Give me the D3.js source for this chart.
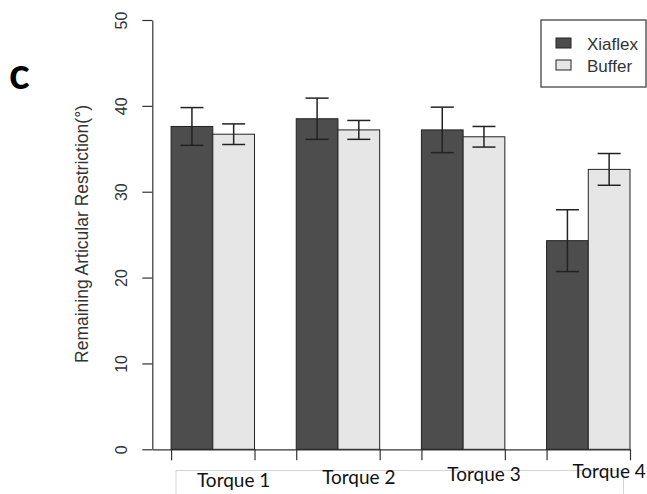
<!DOCTYPE html>
<html>
<head>
<meta charset="utf-8">
<script src="https://cdn.jsdelivr.net/npm/d3@7"></script>
<style>
  body { margin: 0; background: #fff; }
  svg { display: block; }
</style>
</head>
<body>
<div id="chart"></div>
<script>
// data
var groups = ["Torque 1", "Torque 2", "Torque 3", "Torque 4"];
var series = ["Xiaflex", "Buffer"];
var xiaflexMean = [37.6, 38.5, 37.2, 24.3];
var xiaflexErr  = [2.2, 2.4, 2.65, 3.6];
var bufferMean  = [36.7, 37.2, 36.4, 32.6];
var bufferErr   = [1.2, 1.1, 1.2, 1.85];
var yTicks = [0, 10, 20, 30, 40, 50];

var width = 647, height = 494;
var colors = {"Xiaflex": "#4d4d4d", "Buffer": "#e6e6e6"};

var svg = d3.select("#chart")
  .append("svg")
  .attr("width", width)
  .attr("height", height);

// bar units: each group = 2 bars + 1 gap (R barplot style)
var x = d3.scaleLinear()
  .domain([0.55, 12])
  .range([152.3, 630]);

var y = d3.scaleLinear()
  .domain([0, 50])
  .range([449.3, 20]);

var rows = [];
groups.forEach(function(g, i) {
  rows.push({group: g, gi: i, s: "Xiaflex", si: 0, mean: xiaflexMean[i], err: xiaflexErr[i]});
  rows.push({group: g, gi: i, s: "Buffer", si: 1, mean: bufferMean[i], err: bufferErr[i]});
});
function unit(d) { return 1 + d.gi * 3 + d.si; }

// Y axis
var yAxis = svg.append("g")
  .attr("transform", "translate(" + x(0.55) + ",0)")
  .call(d3.axisLeft(y).tickValues(yTicks).tickSize(10).tickSizeOuter(0).tickPadding(0));
yAxis.select(".domain").attr("stroke", "#333").attr("stroke-width", 1.2);
yAxis.selectAll(".tick line").attr("stroke", "#333").attr("stroke-width", 1.2);
yAxis.selectAll(".tick text")
  .attr("x", 0).attr("dy", 0)
  .attr("transform", "translate(-25.3,0) rotate(-90)")
  .style("text-anchor", "middle")
  .style("font-family", "Liberation Sans, Arial, sans-serif")
  .style("font-size", "16px")
  .attr("fill", "#333");

// X axis with ticks at group edges
var edges = [];
groups.forEach(function(g, i) { edges.push(1 + i * 3, 3 + i * 3); });
var xAxis = svg.append("g")
  .attr("transform", "translate(0," + y(0) + ")")
  .call(d3.axisBottom(x).tickValues(edges).tickSize(11).tickSizeOuter(0).tickFormat(""));
xAxis.select(".domain").attr("stroke", "#333").attr("stroke-width", 1.2);
xAxis.selectAll(".tick line").attr("stroke", "#333").attr("stroke-width", 1.2);

// Bars
svg.selectAll("rect.bar")
  .data(rows)
  .enter()
  .append("rect")
  .attr("class", "bar")
  .attr("x", function(d) { return x(unit(d)); })
  .attr("y", function(d) { return y(d.mean); })
  .attr("width", x(2) - x(1))
  .attr("height", function(d) { return y(0) - y(d.mean); })
  .attr("fill", function(d) { return colors[d.s]; })
  .attr("stroke", "#222")
  .attr("stroke-width", 1);

// Error bars
var eb = svg.selectAll("g.err")
  .data(rows)
  .enter()
  .append("g")
  .attr("class", "err")
  .attr("stroke", "#222")
  .attr("stroke-width", 1.5);
eb.append("line")
  .attr("x1", function(d) { return x(unit(d) + 0.5); })
  .attr("x2", function(d) { return x(unit(d) + 0.5); })
  .attr("y1", function(d) { return y(d.mean + d.err); })
  .attr("y2", function(d) { return y(d.mean - d.err); });
eb.append("line")
  .attr("x1", function(d) { return x(unit(d) + 0.5) - 11.5; })
  .attr("x2", function(d) { return x(unit(d) + 0.5) + 11.5; })
  .attr("y1", function(d) { return y(d.mean + d.err); })
  .attr("y2", function(d) { return y(d.mean + d.err); });
eb.append("line")
  .attr("x1", function(d) { return x(unit(d) + 0.5) - 11.5; })
  .attr("x2", function(d) { return x(unit(d) + 0.5) + 11.5; })
  .attr("y1", function(d) { return y(d.mean - d.err); })
  .attr("y2", function(d) { return y(d.mean - d.err); });

// Y label
svg.append("text")
  .attr("transform", "translate(88,234) rotate(-90)")
  .attr("text-anchor", "middle")
  .style("font-family", "Liberation Sans, Arial, sans-serif")
  .style("font-size", "17.5px")
  .attr("fill", "#333")
  .text("Remaining Articular Restriction(°)");

// pasted category label strip
svg.append("path")
  .attr("d", "M176,494V470.5H623.5V494")
  .attr("fill", "none")
  .attr("stroke", "#d4d4d4")
  .attr("stroke-width", 1);
svg.selectAll("text.cat")
  .data(groups)
  .enter()
  .append("text")
  .attr("class", "cat")
  .attr("x", function(d, i) { return x(2.5 + i * 3); })
  .attr("y", function(d, i) { return 487 - i * 3; })
  .attr("text-anchor", "middle")
  .style("font-family", "Lato, sans-serif")
  .style("font-size", "19px")
  .attr("fill", "#111")
  .text(function(d) { return d; });

// Legend
var lg = svg.append("g");
lg.append("rect")
  .attr("x", 541).attr("y", 20).attr("width", 105).attr("height", 67)
  .attr("fill", "#fff").attr("stroke", "#444").attr("stroke-width", 1.3);
series.forEach(function(s, i) {
  lg.append("rect")
    .attr("x", 556).attr("y", 38 + i * 22).attr("width", 15).attr("height", 10)
    .attr("fill", colors[s]).attr("stroke", "#222").attr("stroke-width", 1);
  lg.append("text")
    .attr("x", 587).attr("y", 50 + i * 22)
    .style("font-family", "Liberation Sans, Arial, sans-serif")
    .style("font-size", "17px")
    .attr("fill", "#333")
    .text(s);
});

// panel letter
svg.append("text")
  .attr("x", 9).attr("y", 89)
  .style("font-family", "Lato, sans-serif")
  .style("font-weight", "bold")
  .style("font-size", "43px")
  .attr("fill", "#000")
  .text("c");
</script>
</body>
</html>
